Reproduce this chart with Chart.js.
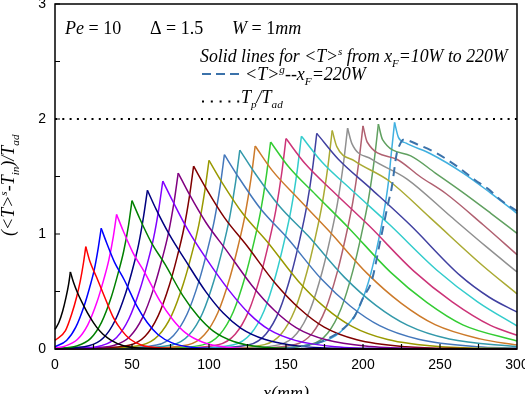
<!DOCTYPE html>
<html>
<head>
<meta charset="utf-8">
<script src="https://cdn.jsdelivr.net/npm/chart.js@4.4.0/dist/chart.umd.min.js"></script>
<style>
  html, body { margin: 0; padding: 0; background: #fff; }
  canvas { display: block; }
</style>
</head>
<body>
<canvas id="profileChart" width="525" height="394"></canvas>
<script>
// front positions x_F of the solid profiles (W = 1 mm)
const frontPositions = [10, 20, 30, 40, 50, 60, 70, 80, 90, 100, 110, 120, 130, 140, 150, 160, 170, 180, 190, 200, 210, 220];
const xTickStep = 50;
const yTickStep = 1;
const plateauLevel = 2; // T_p / T_ad

// solid-phase profiles <T>^s as [x (mm), value]
const s10 = [[0,0.17],[2.5,0.23],[5,0.33],[7,0.44],[8.8,0.56],[10,0.67],[12,0.58],[14.9,0.48],[18.5,0.38],[23,0.27],[27,0.19],[31,0.13],[36,0.08],[44,0.03],[55,0.008],[80,0.002],[300,0]];
const s20 = [[0,0.075],[6.8,0.16],[11,0.31],[14,0.45],[16.4,0.59],[18.5,0.75],[20,0.89],[22.7,0.76],[26.8,0.63],[31.7,0.47],[38,0.27],[43.4,0.16],[48.8,0.085],[56,0.035],[67,0.01],[90,0.002],[300,0]];
const s30 = [[0,0.02],[7.5,0.074],[13.5,0.19],[18.8,0.37],[22.5,0.535],[25.5,0.69],[28.1,0.88],[30,1.05],[33.5,0.924],[38.6,0.756],[45,0.6],[53,0.378],[59.9,0.23],[66.8,0.126],[76,0.053],[89.8,0.013],[110,0.003],[300,0]];
const s40 = [[0,0.01],[6,0.023],[14.5,0.082],[21.3,0.21],[27.3,0.41],[31.5,0.597],[34.9,0.77],[37.9,0.98],[40,1.17],[44.2,1.03],[50.5,0.84],[58.2,0.667],[68,0.42],[76.4,0.257],[84.8,0.14],[96,0.059],[112.8,0.014],[140,0.003],[300,0]];
const s50 = [[0,0.005],[14,0.026],[23,0.09],[30.2,0.232],[36.5,0.45],[41,0.66],[44.6,0.85],[47.8,1.08],[50,1.29],[55,1.135],[62.4,0.93],[71.5,0.735],[83,0.464],[92.9,0.284],[102.8,0.155],[116,0.065],[135.8,0.015],[165,0.003],[300,0]];
const s60 = [[0,0.003],[22,0.028],[31.5,0.097],[39.1,0.25],[45.8,0.483],[50.5,0.7],[54.3,0.91],[57.6,1.16],[60,1.38],[65.7,1.214],[74.3,0.994],[84.7,0.77],[98,0.497],[109.4,0.31],[120.8,0.18],[136,0.085],[158.8,0.025],[190,0.005],[300,0]];
const s70 = [[0,0.002],[15,0.008],[30,0.029],[40,0.1],[48,0.263],[55,0.51],[60,0.745],[64,0.964],[67.5,1.226],[70,1.46],[76.5,1.285],[86.1,1.04],[98,0.79],[113,0.51],[125.9,0.31],[138.8,0.17],[156,0.075],[181.8,0.02],[220,0.004],[300,0]];
const s80 = [[0,0.002],[20,0.008],[38,0.031],[48.5,0.107],[56.9,0.275],[64.3,0.536],[69.5,0.78],[73.7,1.01],[77.4,1.285],[80,1.53],[87.2,1.346],[98,1.1],[111.2,0.86],[128,0.55],[142.4,0.337],[156.8,0.184],[176,0.08],[204.8,0.022],[240,0.004],[300,0]];
const s90 = [[0,0.001],[25,0.007],[48,0.032],[58.5,0.111],[66.9,0.286],[74.3,0.557],[79.5,0.81],[83.7,1.05],[87.4,1.336],[90,1.59],[98,1.4],[109.9,1.145],[124.5,0.9],[143,0.572],[158.9,0.35],[174.8,0.19],[196,0.08],[227.8,0.02],[265,0.004],[300,0.001]];
const s100 = [[0,0.001],[30,0.007],[56,0.033],[67,0.115],[75.8,0.295],[83.5,0.574],[89,0.836],[93.4,1.08],[97.3,1.378],[100,1.64],[108.7,1.443],[121.8,1.18],[137.7,0.935],[158,0.59],[175.4,0.36],[192.8,0.197],[216,0.082],[250.8,0.02],[300,0.003]];
const s110 = [[0,0.001],[35,0.006],[66,0.034],[77,0.118],[85.8,0.304],[93.5,0.59],[99,0.862],[103.4,1.115],[107.3,1.42],[110,1.69],[119.5,1.487],[133.6,1.217],[151,0.963],[173,0.608],[191.9,0.372],[210.8,0.203],[236,0.085],[273.8,0.02],[300,0.008]];
const s120 = [[0,0.001],[45,0.006],[76,0.035],[87,0.121],[95.8,0.311],[103.5,0.606],[109,0.882],[113.4,1.142],[117.3,1.453],[120,1.73],[130.2,1.522],[145.5,1.246],[164.2,0.986],[188,0.623],[208.4,0.38],[228.8,0.208],[256,0.087],[300,0.02]];
const s130 = [[0,0.001],[55,0.006],[86,0.035],[97,0.124],[105.8,0.318],[113.5,0.618],[119,0.9],[123.4,1.165],[127.3,1.483],[130,1.765],[141,1.553],[157.4,1.315],[177.5,1.033],[203,0.653],[224.9,0.397],[246.8,0.212],[276,0.088],[300,0.035]];
const s140 = [[0,0.001],[65,0.006],[96,0.036],[107,0.126],[115.8,0.324],[123.5,0.63],[129,0.918],[133.4,1.188],[137.3,1.512],[140,1.8],[151.7,1.584],[169.3,1.341],[190.7,1.053],[218,0.666],[241.4,0.405],[264.8,0.21],[300,0.07]];
const s150 = [[0,0.001],[75,0.006],[106,0.037],[117,0.128],[125.8,0.329],[133.5,0.64],[139,0.933],[143.4,1.208],[147.3,1.537],[150,1.83],[162.5,1.61],[181.1,1.363],[204,1.071],[233,0.677],[257.9,0.41],[282.8,0.205],[300,0.12]];
const s160 = [[0,0.001],[85,0.006],[116,0.037],[127,0.13],[135.8,0.333],[143.5,0.648],[149,0.944],[153.4,1.221],[157.3,1.554],[160,1.85],[173.2,1.628],[193,1.378],[217.2,1.082],[248,0.685],[274.4,0.41],[300,0.2]];
const s170 = [[0,0.001],[95,0.006],[126,0.037],[137,0.131],[145.8,0.338],[153.5,0.656],[159,0.956],[163.4,1.238],[167.3,1.575],[170,1.875],[184,1.65],[204.9,1.397],[230.5,1.08],[263,0.64],[282,0.45],[300,0.32]];
const s180 = [[0,0.001],[105,0.006],[136,0.038],[147,0.133],[155.8,0.342],[163.5,0.665],[169,0.969],[173.4,1.254],[177.3,1.596],[180,1.9],[183,1.76],[194.7,1.634],[216.8,1.463],[243.7,1.14],[278,0.722],[300,0.48]];
const s190 = [[0,0.001],[115,0.006],[146,0.038],[157,0.134],[165.8,0.346],[173.5,0.672],[179,0.979],[183.4,1.267],[187.3,1.613],[190,1.92],[192.8,1.786],[205.5,1.651],[228.6,1.478],[257,1.152],[280,0.89],[300,0.67]];
const s200 = [[0,0.001],[125,0.006],[156,0.039],[167,0.136],[175.8,0.349],[183.5,0.679],[189,0.989],[193.4,1.28],[197.3,1.63],[200,1.94],[202.7,1.8],[221.9,1.65],[237,1.5],[254,1.35],[278,1.08],[300,0.82]];
const s210 = [[0,0.001],[135,0.006],[166,0.039],[177,0.137],[185.8,0.352],[193.5,0.684],[199,0.997],[203.4,1.29],[207.3,1.642],[210,1.955],[212.7,1.82],[231,1.68],[247,1.53],[265,1.36],[283,1.18],[300,1.006]];
const s220 = [[0,0.001],[145,0.006],[170,0.05],[178.6,0.088],[185,0.145],[196,0.32],[203.5,0.58],[208.9,0.87],[213.2,1.16],[216.4,1.44],[218.6,1.73],[220.5,1.97],[223,1.84],[228,1.79],[243.5,1.7],[265,1.53],[282.5,1.36],[300,1.18]];

// gas-phase profile <T>^g for x_F = 220W
const gas220 = [[150,0.005],[170,0.05],[180,0.11],[188.3,0.19],[194.8,0.29],[200.2,0.45],[205.6,0.59],[211,0.925],[216.4,1.27],[218.6,1.4],[221.9,1.7],[224,1.78],[226,1.82],[237,1.77],[246.8,1.71],[255.4,1.64],[264,1.56],[272.7,1.47],[281.4,1.39],[289,1.3],[300,1.2]];

const solidProfiles = [s10, s20, s30, s40, s50, s60, s70, s80, s90, s100, s110, s120, s130, s140, s150, s160, s170, s180, s190, s200, s210, s220];
const curveColors = ['#000000', '#ff0000', '#0000ff', '#ff00ff', '#008000', '#000080', '#8000ff', '#800080', '#800000', '#999900',
  '#4477bb', '#3399aa', '#cc7a2a', '#33cc33', '#cc3377', '#33cccc', '#4040a0', '#aaaa33', '#909090', '#b06070', '#60a060', '#40b0e0'];

const serif = '"Liberation Serif", "Times New Roman", serif';

function toPoints(list) {
  return list.map(p => ({ x: p[0], y: p[1] }));
}

// split a profile at its maximum so the cusp stays sharp with smooth sides
function splitAtPeak(list) {
  let k = 0;
  list.forEach((p, i) => { if (p[1] > list[k][1]) k = i; });
  return [list.slice(0, k + 1), list.slice(k)];
}

// draws mixed italic / sub / sup text, returns the end x
function richText(ctx, x, y, parts, size) {
  let cx = x;
  parts.forEach(([txt, kind]) => {
    let fs = size, dy = 0, style = 'italic ';
    if (kind === 'n') style = '';
    if (kind === 'sub') { fs = size * 0.62; dy = size * 0.28; }
    if (kind === 'sup') { fs = size * 0.62; dy = -size * 0.4; }
    ctx.font = style + fs + 'px ' + serif;
    ctx.fillText(txt, cx, y + dy);
    cx += ctx.measureText(txt).width;
  });
  return cx;
}

const decor = {
  id: 'decor',
  afterDatasetsDraw(chart) {
    const { ctx, chartArea: a, scales: { x, y } } = chart;
    ctx.save();
    ctx.strokeStyle = '#000';
    ctx.lineWidth = 1.5;
    ctx.strokeRect(a.left, a.top, a.right - a.left, a.bottom - a.top);
    ctx.lineWidth = 1.2;
    ctx.beginPath();
    for (let v = 0; v <= 3; v += 0.5) {
      const py = y.getPixelForValue(v);
      ctx.moveTo(a.left, py);
      ctx.lineTo(a.left + 5, py);
    }
    for (let v = 25; v < 300; v += 25) {
      const px = x.getPixelForValue(v);
      ctx.moveTo(px, a.bottom);
      ctx.lineTo(px, a.bottom - 5);
    }
    ctx.stroke();
    ctx.restore();
  },
  afterDraw(chart) {
    const { ctx, chartArea: a } = chart;
    ctx.save();
    ctx.fillStyle = '#000';
    ctx.textBaseline = 'alphabetic';
    ctx.textAlign = 'left';
    const fs = 18;
    const L = a.left;

    richText(ctx, L + 10, 34, [['Pe', 'i'], [' = 10', 'n']], fs);
    richText(ctx, L + 95, 34, [['\u0394 = 1.5', 'n']], fs);
    richText(ctx, L + 177, 34, [['W', 'i'], [' = 1', 'n'], ['mm', 'i']], fs);

    richText(ctx, L + 145, 62, [['Solid lines for <T>', 'i'], ['s', 'sup'], [' from x', 'i'], ['F', 'sub'], ['=10W to 220W', 'i']], 17.8);

    // dashed legend sample
    ctx.strokeStyle = '#3b72aa';
    ctx.lineWidth = 2;
    ctx.setLineDash([9, 5]);
    ctx.beginPath();
    ctx.moveTo(L + 147, 74);
    ctx.lineTo(L + 188, 74);
    ctx.stroke();
    ctx.setLineDash([]);
    richText(ctx, L + 190, 80, [['<T>', 'i'], ['g', 'sup'], ['--x', 'i'], ['F', 'sub'], ['=220W', 'i']], fs);

    // dotted legend sample
    for (let i = 0; i < 5; i++) {
      ctx.fillRect(L + 147 + i * 8.8, 100.5, 2, 2);
    }
    richText(ctx, L + 186, 103, [['T', 'i'], ['p', 'sub'], ['/T', 'i'], ['ad', 'sub']], fs);

    // axis titles
    ctx.font = 'italic 18px ' + serif;
    ctx.textAlign = 'center';
    ctx.fillText('x(mm)', (a.left + a.right) / 2, 399);

    ctx.textAlign = 'left';
    ctx.translate(14, 236);
    ctx.rotate(-Math.PI / 2);
    richText(ctx, 0, 0, [['(<T>', 'i'], ['s', 'sup'], ['-T', 'i'], ['in', 'sub'], [')/T', 'i'], ['ad', 'sub']], 18);
    ctx.restore();
  }
};

const common = { pointRadius: 0, fill: false, cubicInterpolationMode: 'monotone', clip: 3 };
const datasets = [
  Object.assign({ data: toPoints(gas220), borderColor: '#3b72aa', borderWidth: 2, borderDash: [9, 6] }, common),
  Object.assign({ data: toPoints([[0, plateauLevel], [300, plateauLevel]]), borderColor: '#000', borderWidth: 2, borderDash: [2, 5.3] }, common)
];
solidProfiles.forEach((p, i) => {
  splitAtPeak(p).forEach(side => {
    datasets.push(Object.assign({ data: toPoints(side), borderColor: curveColors[i], borderWidth: 1.5, label: 'xF=' + frontPositions[i] }, common));
  });
});

const tickFont = { family: '"Liberation Sans", Arial, sans-serif', size: 14 };

new Chart(document.getElementById('profileChart').getContext('2d'), {
  type: 'line',
  data: { datasets: datasets },
  options: {
    responsive: false,
    animation: false,
    devicePixelRatio: 1,
    layout: { padding: { left: 0, right: 8, top: 4, bottom: 0 } },
    plugins: { legend: { display: false }, tooltip: { enabled: false } },
    scales: {
      x: {
        type: 'linear', min: 0, max: 300,
        grid: { display: true, drawOnChartArea: false, drawTicks: false },
        border: { display: false },
        ticks: { stepSize: xTickStep, padding: 8, color: '#000', font: tickFont, maxRotation: 0 },
        afterFit: s => { s.height = 45; s.paddingLeft = 0; s.paddingRight = 0; }
      },
      y: {
        type: 'linear', min: 0, max: 3,
        grid: { display: true, drawOnChartArea: false, drawTicks: false },
        border: { display: false },
        ticks: { stepSize: yTickStep, padding: 9, color: '#000', font: tickFont },
        afterFit: s => { s.width = 55; s.paddingTop = 0; s.paddingBottom = 0; }
      }
    }
  },
  plugins: [decor]
});
</script>
</body>
</html>
